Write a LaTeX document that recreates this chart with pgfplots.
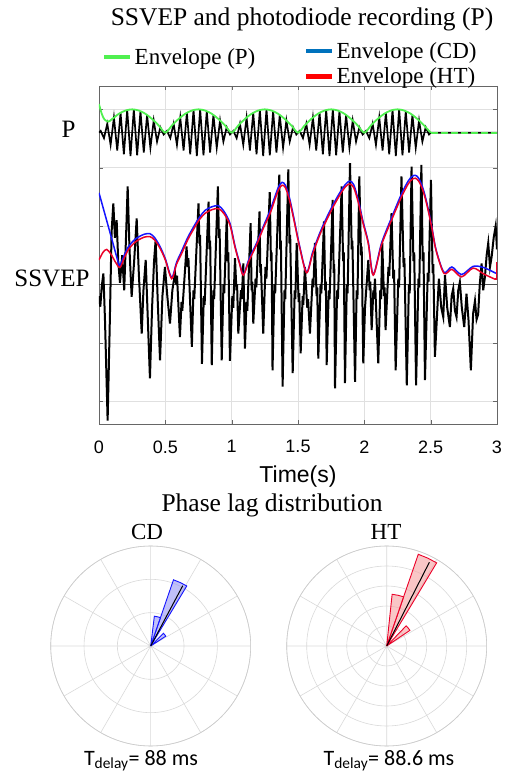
\documentclass[border=0pt]{standalone}
\usepackage{fontspec}
\setmainfont{Liberation Serif}
\newfontfamily\arial{Liberation Sans}
\newfontfamily\calibri{Carlito}
\usepackage{pgfplots}
\pgfplotsset{compat=1.18}
\usepgfplotslibrary{polar}

\definecolor{envP}{RGB}{80,240,80}
\definecolor{envCD}{RGB}{20,20,255}
\definecolor{envHT}{RGB}{235,0,40}
\definecolor{legCD}{RGB}{0,114,189}
\definecolor{legHT}{RGB}{255,0,0}
\definecolor{fillCD}{RGB}{150,150,245}
\definecolor{fillHT}{RGB}{245,160,160}

\pgfplotsset{
  legimg/.style={legend image code/.code={\draw[##1,line width=4.5pt] (0pt,0pt) -- (26pt,0pt);}},
  rose/.style={scale only axis, width=200pt, height=200pt, ymin=0,
    xtick={0,30,...,330}, xticklabels={}, yticklabels={}, major tick length=0pt,
    grid=major, major grid style={black!15, line width=0.6pt},
    axis line style={black!20, line width=0.6pt},
    y axis line style={draw=none}},
  wedge/.style={draw=env#1, line width=0.9pt, fill=fill#1, fill opacity=0.6},
}
\newcommand\fs[1]{\fontsize{#1}{#1}\selectfont}

\begin{document}
\begin{tikzpicture}
\useasboundingbox (0pt,0pt) rectangle (508pt,774pt);
\node[font=\fs{25.5}] at (302pt,755pt) {SSVEP and photodiode recording (P)};

% main time-course axis
\begin{axis}[
  at={(99pt,350pt)}, anchor=south west, scale only axis,
  width=398pt, height=338pt,
  xmin=0, xmax=3, ymin=-0.39, ymax=5.40,
  xtick={0,0.5,...,3}, ytick={0,...,5}, yticklabels={},
  extra y ticks={2.11,4.65}, extra y tick labels={SSVEP,P\rule{14pt}{0pt}},
  extra y tick style={grid=none, major tick length=0pt,
    yticklabel style={font=\fs{25}, xshift=-6pt}},
  grid=major, grid style={black!12, line width=0.6pt},
  major tick length=4pt, tick style={black!60},
  axis line style={black!60, line width=0.6pt},
  xticklabel style={font=\arial\fs{18}, yshift=-13pt, /pgf/number format/assume math mode=true},
  xlabel={Time(s)}, xlabel style={font=\arial\fs{23}, yshift=-6pt},
  legimg,
  legend style={at={(0.515,1.136)}, anchor=north west, draw=none, fill=none,
    font=\fs{23}, row sep=4pt, inner sep=0pt, cells={anchor=west}},
]
\addplot[forget plot, black!70, line width=0.6pt] coordinates {(0,2) (3,2)};
\addplot[forget plot, black!70, line width=0.6pt] coordinates {(0,4.6) (3,4.6)};

% photodiode signal
\addplot[forget plot, black, line width=1.7pt] coordinates {
(0,4.6)
(0.0125,4.631) (0.0375,4.507) (0.0625,4.753) (0.0875,4.391) (0.1125,4.860) (0.1375,4.296) (0.1625,4.941) (0.1875,4.230) (0.2125,4.989) (0.2375,4.201)
(0.2625,4.999) (0.2875,4.211) (0.3125,4.970) (0.3375,4.259) (0.3625,4.904) (0.3875,4.340) (0.4125,4.809) (0.4375,4.447) (0.4625,4.693) (0.4875,4.569)
(0.5125,4.631) (0.5375,4.507) (0.5625,4.753) (0.5875,4.391) (0.6125,4.860) (0.6375,4.296) (0.6625,4.941) (0.6875,4.230) (0.7125,4.989) (0.7375,4.201)
(0.7625,4.999) (0.7875,4.211) (0.8125,4.970) (0.8375,4.259) (0.8625,4.904) (0.8875,4.340) (0.9125,4.809) (0.9375,4.447) (0.9625,4.693) (0.9875,4.569)
(1.0125,4.631) (1.0375,4.507) (1.0625,4.753) (1.0875,4.391) (1.1125,4.860) (1.1375,4.296) (1.1625,4.941) (1.1875,4.230) (1.2125,4.989) (1.2375,4.201)
(1.2625,4.999) (1.2875,4.211) (1.3125,4.970) (1.3375,4.259) (1.3625,4.904) (1.3875,4.340) (1.4125,4.809) (1.4375,4.447) (1.4625,4.693) (1.4875,4.569)
(1.5125,4.631) (1.5375,4.507) (1.5625,4.753) (1.5875,4.391) (1.6125,4.860) (1.6375,4.296) (1.6625,4.941) (1.6875,4.230) (1.7125,4.989) (1.7375,4.201)
(1.7625,4.999) (1.7875,4.211) (1.8125,4.970) (1.8375,4.259) (1.8625,4.904) (1.8875,4.340) (1.9125,4.809) (1.9375,4.447) (1.9625,4.693) (1.9875,4.569)
(2.0125,4.631) (2.0375,4.507) (2.0625,4.753) (2.0875,4.391) (2.1125,4.860) (2.1375,4.296) (2.1625,4.941) (2.1875,4.230) (2.2125,4.989) (2.2375,4.201)
(2.2625,4.999) (2.2875,4.211) (2.3125,4.970) (2.3375,4.259) (2.3625,4.904) (2.3875,4.340) (2.4125,4.809) (2.4375,4.447) (2.4625,4.693) (2.4875,4.569)
(2.5,4.6) (3.0,4.6)};

% envelope of photodiode
\addplot[forget plot, envP, line width=1.8pt, smooth] coordinates {
(0,5.09) (0.02,4.93) (0.04,4.83) (0.07,4.79) (0.10,4.835) (0.15,4.924) (0.20,4.980) (0.25,5.000) (0.30,4.980) (0.35,4.924) (0.40,4.835) (0.45,4.724)
(0.50,4.600) (0.55,4.724) (0.60,4.835) (0.65,4.924) (0.70,4.980) (0.75,5.000) (0.80,4.980) (0.85,4.924) (0.90,4.835) (0.95,4.724)
(1.00,4.600) (1.05,4.724) (1.10,4.835) (1.15,4.924) (1.20,4.980) (1.25,5.000) (1.30,4.980) (1.35,4.924) (1.40,4.835) (1.45,4.724)
(1.50,4.600) (1.55,4.724) (1.60,4.835) (1.65,4.924) (1.70,4.980) (1.75,5.000) (1.80,4.980) (1.85,4.924) (1.90,4.835) (1.95,4.724)
(2.00,4.600) (2.05,4.724) (2.10,4.835) (2.15,4.924) (2.20,4.980) (2.25,5.000) (2.30,4.980) (2.35,4.924) (2.40,4.835) (2.45,4.724)
(2.50,4.600)};
\addplot[forget plot, envP, line width=1.8pt, dash pattern=on 7pt off 3pt] coordinates {(2.5,4.6) (3.0,4.6)};

% SSVEP
\addplot[forget plot, black, line width=2pt] coordinates {
(0.000,1.80) (0.010,1.62) (0.020,1.95) (0.033,2.19) (0.045,1.40) (0.065,-0.33) (0.080,1.20) (0.095,2.90) (0.108,3.39) (0.120,2.80)
(0.133,3.10) (0.145,2.40) (0.158,2.03) (0.175,2.50) (0.190,1.90) (0.205,2.90) (0.216,3.68) (0.230,2.60) (0.246,1.79) (0.265,2.40)
(0.284,3.13) (0.300,2.20) (0.322,1.16) (0.335,1.90) (0.352,2.42) (0.368,1.40) (0.384,0.39) (0.400,1.60) (0.415,2.40) (0.427,2.76)
(0.443,1.70) (0.460,0.70) (0.478,1.80) (0.497,2.30) (0.515,1.80) (0.535,1.33)
(0.553,1.90) (0.573,2.20) (0.582,2.00) (0.588,2.15) (0.610,1.10) (0.622,1.70) (0.628,1.55) (0.660,2.65) (0.668,2.30) (0.674,2.45)
(0.700,0.93) (0.712,1.90) (0.718,1.75) (0.750,3.39) (0.757,2.70) (0.762,2.85) (0.776,0.64) (0.790,1.80) (0.796,1.65) (0.826,3.42)
(0.833,2.60) (0.838,2.75) (0.850,0.62) (0.862,1.90) (0.868,1.75) (0.896,3.68) (0.904,2.80) (0.909,2.95) (0.925,0.70) (0.938,2.00)
(0.944,1.85) (0.963,3.16) (0.970,2.40) (0.975,2.55) (0.987,0.69)
(1.005,1.80) (1.012,1.60) (1.025,2.45) (1.036,1.90) (1.041,2.00) (1.050,1.16) (1.070,1.90) (1.076,1.75) (1.088,2.36) (1.100,0.90)
(1.112,1.70) (1.118,1.55) (1.143,3.05) (1.150,1.90) (1.155,2.05) (1.163,1.33) (1.180,2.10) (1.186,1.95) (1.210,3.25) (1.216,2.20)
(1.220,2.35) (1.238,1.16) (1.255,2.30) (1.262,2.10) (1.287,3.58) (1.296,2.40) (1.301,2.55) (1.308,0.53) (1.322,2.00) (1.328,1.85)
(1.359,3.88) (1.366,2.60) (1.371,2.75) (1.384,0.25) (1.398,1.90) (1.404,1.75) (1.427,3.97) (1.436,2.70) (1.441,2.85) (1.460,0.48)
(1.475,1.90) (1.480,1.75) (1.490,2.71) (1.505,1.70) (1.510,1.85) (1.520,0.82) (1.535,1.80) (1.540,1.65) (1.552,2.30) (1.570,1.60)
(1.576,1.75) (1.590,1.16) (1.610,2.10) (1.616,1.95) (1.628,2.71) (1.640,1.80) (1.645,1.95) (1.653,0.73) (1.670,2.00) (1.676,1.85)
(1.696,3.08) (1.705,1.90) (1.710,2.05) (1.716,0.62) (1.732,1.90) (1.738,1.75) (1.761,3.45) (1.769,2.20) (1.773,2.35) (1.779,0.22)
(1.795,1.90) (1.801,1.75) (1.829,3.68) (1.840,2.40) (1.845,2.55) (1.854,0.31) (1.868,2.00) (1.874,1.85) (1.892,4.08) (1.905,2.60)
(1.910,2.75) (1.930,0.33) (1.942,1.90) (1.948,1.75) (1.962,3.85) (1.975,2.50) (1.980,2.65) (1.992,0.65) (2.005,1.60) (2.030,2.42)
(2.040,1.90) (2.045,2.05) (2.055,1.22) (2.068,1.90) (2.072,1.75) (2.080,2.10) (2.105,0.65) (2.120,1.90) (2.126,1.75) (2.135,2.71)
(2.148,1.80) (2.153,1.95) (2.160,1.22) (2.182,2.30) (2.188,2.15) (2.205,3.22) (2.218,2.10) (2.224,2.25) (2.236,0.53) (2.256,2.10)
(2.262,1.95) (2.280,3.85) (2.296,2.30) (2.302,2.45) (2.320,0.27) (2.336,2.00) (2.342,1.85) (2.356,4.02) (2.370,2.40) (2.376,2.55)
(2.390,0.27) (2.408,2.10) (2.414,1.95) (2.430,4.05) (2.440,2.40) (2.446,2.55) (2.457,0.36) (2.478,2.20) (2.484,2.05) (2.502,3.79)
(2.515,2.20) (2.520,2.35) (2.532,0.76)
(2.562,2.10) (2.580,1.60) (2.595,1.44) (2.608,2.16) (2.625,1.60) (2.645,1.27) (2.658,1.80) (2.670,1.93) (2.683,1.55) (2.695,1.44)
(2.708,1.90) (2.720,2.04) (2.735,1.60) (2.753,1.27) (2.770,1.84) (2.785,1.40) (2.803,0.53) (2.820,1.50) (2.834,1.72) (2.846,1.40)
(2.858,1.49) (2.870,2.00) (2.884,2.36) (2.896,1.90) (2.909,2.13) (2.922,2.50) (2.934,2.71) (2.947,2.30) (2.960,2.48) (2.975,2.80)
(2.990,3.00) (3.000,2.60)};

% envelope CD
\addplot[forget plot, envCD, line width=1.5pt, smooth] coordinates {
(0.000,3.57) (0.050,3.16) (0.100,2.75) (0.146,2.37) (0.158,2.33) (0.190,2.50) (0.220,2.64) (0.260,2.75) (0.295,2.81) (0.340,2.86)
(0.384,2.87) (0.420,2.80) (0.460,2.65) (0.500,2.44) (0.548,2.12) (0.585,2.38) (0.623,2.57) (0.670,2.81) (0.724,3.03) (0.760,3.16)
(0.800,3.27) (0.850,3.33) (0.899,3.35) (0.940,3.26) (0.987,3.05) (1.025,2.66) (1.060,2.37) (1.088,2.17) (1.130,2.43) (1.188,2.71)
(1.240,3.00) (1.290,3.27) (1.330,3.53) (1.355,3.68) (1.380,3.75) (1.405,3.70) (1.435,3.49) (1.465,3.18) (1.515,2.63) (1.565,2.21)
(1.610,2.55) (1.664,2.88) (1.715,3.14) (1.765,3.37) (1.820,3.59) (1.860,3.72) (1.890,3.77) (1.920,3.71) (1.955,3.44) (1.990,3.08)
(2.030,2.72) (2.067,2.17) (2.130,2.71) (2.210,3.17) (2.280,3.55) (2.330,3.77) (2.360,3.85) (2.385,3.87) (2.410,3.82) (2.440,3.66)
(2.470,3.41) (2.507,3.01) (2.540,2.60) (2.600,2.21) (2.660,2.30) (2.733,2.17) (2.820,2.31) (2.900,2.29) (2.985,2.20) (3.000,2.19)};

% envelope HT
\addplot[forget plot, envHT, line width=1.5pt, smooth] coordinates {
(0.000,2.42) (0.030,2.55) (0.058,2.60) (0.090,2.52) (0.125,2.38) (0.158,2.29) (0.190,2.45) (0.220,2.59) (0.260,2.70) (0.295,2.76)
(0.340,2.81) (0.384,2.82) (0.420,2.76) (0.460,2.62) (0.500,2.42) (0.548,2.10) (0.585,2.35) (0.623,2.53) (0.670,2.77) (0.724,2.99)
(0.760,3.12) (0.800,3.22) (0.850,3.28) (0.899,3.30) (0.940,3.22) (0.987,3.02) (1.025,2.64) (1.060,2.35) (1.088,2.16) (1.130,2.40)
(1.188,2.68) (1.240,2.97) (1.290,3.22) (1.330,3.48) (1.355,3.63) (1.380,3.70) (1.405,3.66) (1.435,3.45) (1.465,3.15) (1.515,2.61)
(1.565,2.20) (1.610,2.52) (1.664,2.85) (1.715,3.10) (1.765,3.33) (1.820,3.55) (1.860,3.68) (1.890,3.72) (1.920,3.66) (1.955,3.40)
(1.990,3.05) (2.030,2.70) (2.067,2.16) (2.130,2.68) (2.210,3.13) (2.280,3.50) (2.330,3.72) (2.360,3.80) (2.385,3.82) (2.410,3.77)
(2.440,3.62) (2.470,3.38) (2.507,2.99) (2.540,2.59) (2.600,2.19) (2.660,2.26) (2.733,2.13) (2.820,2.28) (2.900,2.18) (2.985,2.09)};
\addplot[forget plot, envHT, line width=1.5pt] coordinates {(2.985,2.09) (3.000,2.09) (3.000,2.39)};

\addlegendimage{legCD}
\addlegendentry{Envelope (CD)}
\addlegendimage{legHT}
\addlegendentry{Envelope (HT)}
\end{axis}

% separate legend for the photodiode envelope
\begin{axis}[
  hide axis, scale only axis, width=10pt, height=10pt,
  at={(102pt,717pt)}, anchor=west, xmin=0, xmax=1, ymin=0, ymax=1,
  legimg,
  legend style={at={(0,0.5)}, anchor=west, draw=none, fill=none,
    font=\fs{23}, inner sep=0pt},
]
\addlegendimage{envP}
\addlegendentry{Envelope (P)}
\end{axis}

\node[font=\fs{25.5}] at (272pt,269pt) {Phase lag distribution};
\node[font=\fs{23}] at (147pt,242pt) {CD};
\node[font=\fs{23}] at (386pt,242pt) {HT};

% rose plot CD
\begin{polaraxis}[rose, ymax=3, ytick={1,2,3}, at={(150.7pt,128pt)}, anchor=center]
\addplot[wedge=CD] coordinates {(0,0) (59,2.1) (65,2.1) (71,2.1) (0,0)};
\addplot[wedge=CD] coordinates {(0,0) (71,0.9) (77,0.9) (83,0.9) (0,0)};
\addplot[wedge=CD] coordinates {(0,0) (33,0.54) (39,0.54) (45,0.54) (0,0)};
\addplot[black, line width=1pt] coordinates {(0,0) (62,2.05)};
\end{polaraxis}

% rose plot HT
\begin{polaraxis}[rose, ymax=5, ytick={1,2,3,4,5}, at={(386.7pt,128pt)}, anchor=center]
\addplot[wedge=HT] coordinates {(0,0) (59,4.85) (65,4.85) (71,4.85) (0,0)};
\addplot[wedge=HT] coordinates {(0,0) (71,2.6) (77,2.6) (84,2.6) (0,0)};
\addplot[wedge=HT] coordinates {(0,0) (34,1.4) (40,1.4) (46,1.4) (0,0)};
\addplot[black, line width=1pt] coordinates {(0,0) (63,4.7)};
\end{polaraxis}

\node[font=\calibri\fs{22}, anchor=base] at (141pt,9pt) {T\textsubscript{delay}= 88 ms};
\node[font=\calibri\fs{22}, anchor=base] at (389pt,9pt) {T\textsubscript{delay}= 88.6 ms};
\end{tikzpicture}
\end{document}
